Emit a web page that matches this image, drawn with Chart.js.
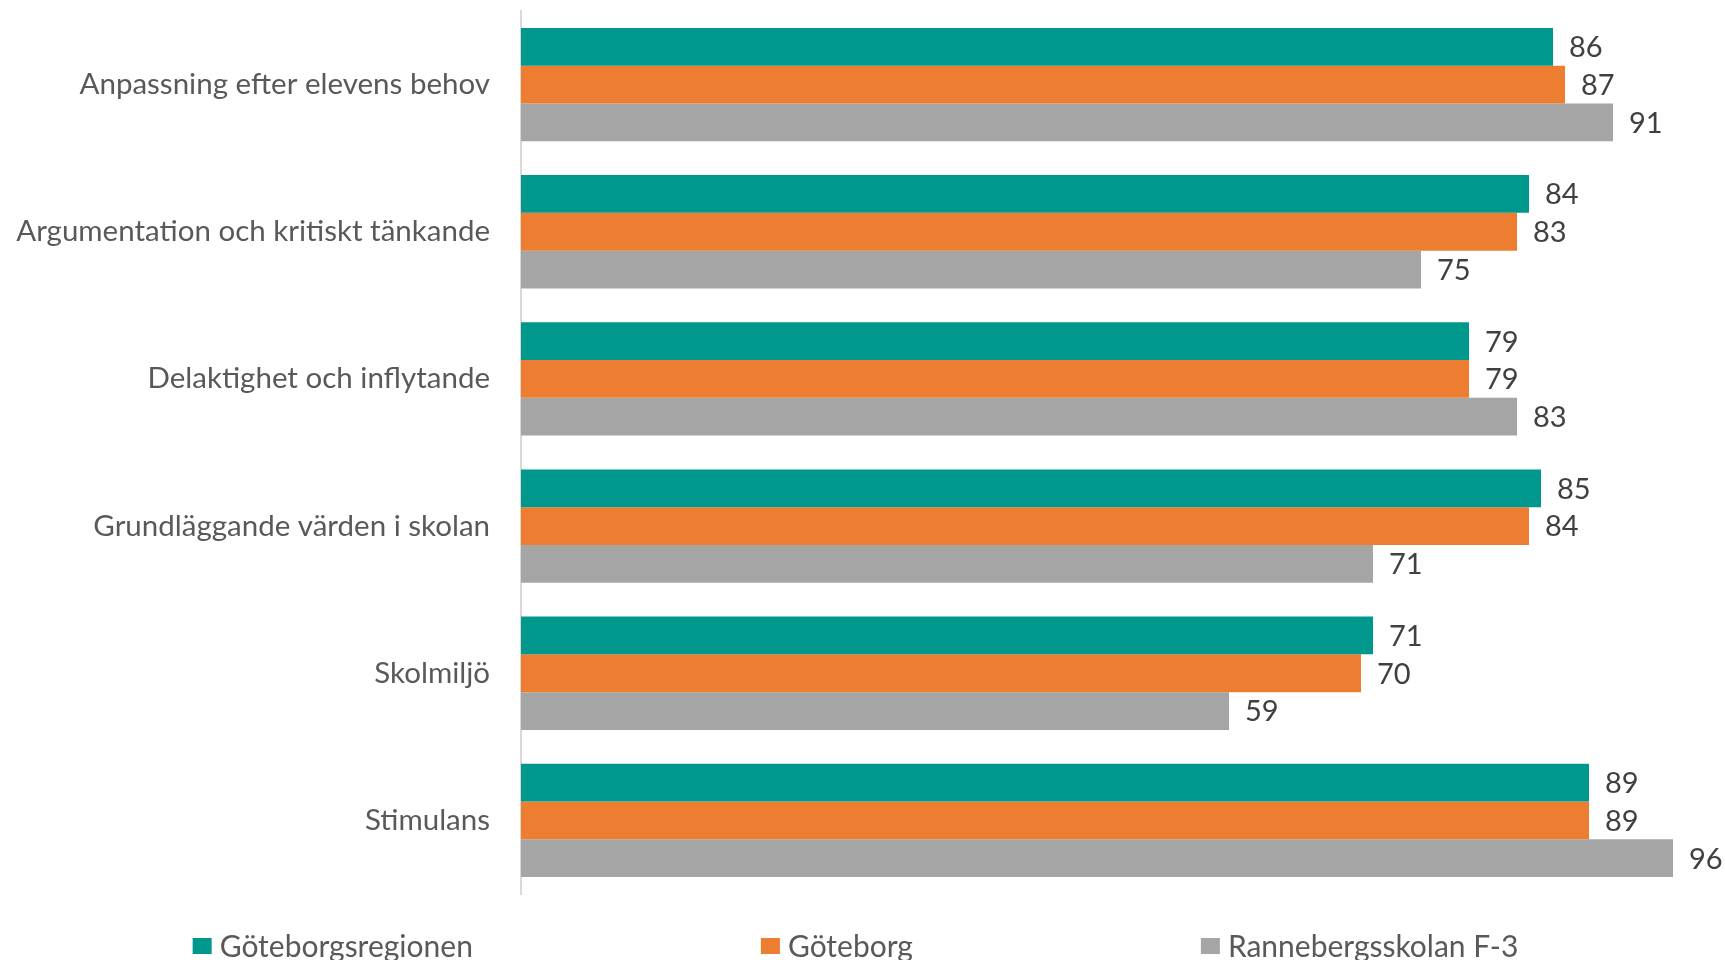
<!DOCTYPE html>
<html>
<head>
<meta charset="utf-8">
<script src="https://cdn.jsdelivr.net/npm/chart.js@4.4.1/dist/chart.umd.min.js"></script>
<style>
  html, body { margin: 0; padding: 0; background: #fff; }
</style>
</head>
<body>
<canvas id="chart" width="1725" height="960"></canvas>
<script>
// categories and series values
const categories = [
  'Anpassning efter elevens behov',
  'Argumentation och kritiskt tänkande',
  'Delaktighet och inflytande',
  'Grundläggande värden i skolan',
  'Skolmiljö',
  'Stimulans'
];
const seriesNames = ['Göteborgsregionen', 'Göteborg', 'Rannebergsskolan F-3'];
const regionValues = [86, 84, 79, 85, 71, 89];
const cityValues = [87, 83, 79, 84, 70, 89];
const schoolValues = [91, 75, 83, 71, 59, 96];
const seriesColors = ['#00988C', '#ED7D31', '#A5A5A5'];

const FONT = 'Lato, "Open Sans", sans-serif';

// value labels to the right of each bar
const valueLabels = {
  id: 'valueLabels',
  afterDatasetsDraw(chart) {
    const ctx = chart.ctx;
    ctx.save();
    ctx.font = '29px ' + FONT;
    ctx.fillStyle = '#404040';
    ctx.textAlign = 'left';
    ctx.textBaseline = 'middle';
    chart.data.datasets.forEach((ds, i) => {
      chart.getDatasetMeta(i).data.forEach((bar, j) => {
        ctx.fillText(String(ds.data[j]), bar.x + 16, bar.y + 1);
      });
    });
    ctx.restore();
  }
};

// legend spread along the bottom like the original
const wideLegend = {
  id: 'wideLegend',
  afterDraw(chart) {
    const ctx = chart.ctx;
    const gap = 288, boxW = 19, boxH = 16, textGap = 8;
    ctx.save();
    ctx.font = '30px ' + FONT;
    ctx.textBaseline = 'middle';
    ctx.textAlign = 'left';
    const widths = chart.data.datasets.map(ds => boxW + textGap + ctx.measureText(ds.label).width);
    const total = widths.reduce((a, b) => a + b, 0) + gap * (widths.length - 1);
    let x = chart.width / 2 - 7 - total / 2;
    const y = 946;
    chart.data.datasets.forEach((ds, i) => {
      ctx.fillStyle = ds.backgroundColor;
      ctx.fillRect(x, y - boxH / 2, boxW, boxH);
      ctx.fillStyle = '#595959';
      ctx.fillText(ds.label, x + boxW + textGap, y + 1);
      x += widths[i] + gap;
    });
    ctx.restore();
  }
};

const allValues = [regionValues, cityValues, schoolValues];

new Chart(document.getElementById('chart'), {
  type: 'bar',
  data: {
    labels: categories,
    datasets: seriesNames.map((name, i) => ({
      label: name,
      data: allValues[i],
      backgroundColor: seriesColors[i],
      categoryPercentage: 0.77,
      barPercentage: 1.0
    }))
  },
  options: {
    indexAxis: 'y',
    responsive: false,
    animation: false,
    layout: { padding: { top: 11, right: 4, bottom: 66, left: 0 } },
    plugins: {
      legend: { display: false },
      tooltip: { enabled: false }
    },
    scales: {
      x: { display: false, min: 0, max: 100 },
      y: {
        grid: { display: false, drawTicks: false },
        border: { display: true, color: '#D9D9D9', width: 2 },
        ticks: { font: { family: FONT, size: 29.5 }, color: '#595959', padding: 31 },
        afterFit(scale) {
          scale.width = 521;
          scale.paddingTop = 0;
          scale.paddingBottom = 0;
        }
      }
    }
  },
  plugins: [valueLabels, wideLegend]
});
</script>
</body>
</html>
